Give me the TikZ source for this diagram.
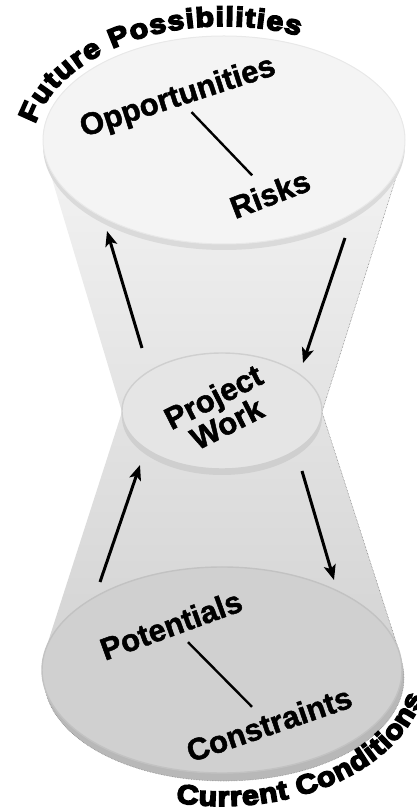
\documentclass[tikz,border=0pt]{standalone}
\usepackage{fontspec}
\setmainfont{Liberation Sans}
\newfontfamily\lblfont[FakeBold=1.6]{Liberation Sans Bold}
\newfontfamily\arcfont[FakeStretch=1.12,FakeBold=6]{Liberation Sans Bold}
\usetikzlibrary{shapes.geometric,arrows.meta,decorations.text,calc}

\definecolor{funnelTop}{HTML}{F2F2F2}
\definecolor{funnelBot}{HTML}{D4D4D4}
\definecolor{topFace}{HTML}{F4F4F4}
\definecolor{topRim}{HTML}{DADADA}
\definecolor{midFace}{HTML}{E5E5E5}
\definecolor{midEdge}{HTML}{CFCFCF}
\definecolor{botFace}{HTML}{D0D0D0}
\definecolor{botEdge}{HTML}{C2C2C2}
\definecolor{botRim}{HTML}{B8B8B8}

\newcommand\lblfmt{\lblfont\fontsize{31}{28}\selectfont}
\newcommand\upperfmt{\arcfont\fontsize{27}{27}\selectfont}
\newcommand\lowerfmt{\arcfont\fontsize{27}{27}\selectfont}

\begin{document}
\begin{tikzpicture}[x=1pt,y=1pt,
  disc/.style={ellipse, inner sep=0pt, outer sep=0pt},
  lbl/.style={font=\lblfmt, inner sep=3pt, text=black},
  flow/.style={line width=3pt, -{Stealth[length=15pt,width=12pt,inset=3.5pt]}},
  tie/.style={line width=2.4pt},
  speckle/.style={densely dotted, line width=0.5pt, black!60}]
\useasboundingbox (0,0) rectangle (416,809);

% hourglass body between the three discs
\shade[top color=funnelTop, bottom color=funnelBot]
  (45.6,651.3) -- (122,397) -- (45.1,158) -- (399,158) -- (322,397) -- (402,650.4) -- cycle;
\draw[speckle] (402,650.4) -- (322,397) -- (399,158);

% lower disc: current conditions
\node[disc, minimum width=360pt, minimum height=206pt, fill=botRim, draw=black!45, densely dotted, line width=0.6pt] (botrim) at (224,131) {};
\node[disc, minimum width=360pt, minimum height=206pt, fill=botFace, draw=botEdge, line width=1.4pt] (bot) at (222,139) {};

% middle disc: project work
\node[disc, minimum width=200pt, minimum height=116pt, fill=midEdge] (midrim) at (222,392) {};
\node[disc, minimum width=200pt, minimum height=116pt, fill=midFace, draw=midEdge, line width=1.4pt] (mid) at (222,398) {};

% upper disc: future possibilities
\node[disc, minimum width=362pt, minimum height=208pt, fill=topRim] (toprim) at (224,663) {};
\node[disc, minimum width=362pt, minimum height=208pt, fill=topFace, draw=black!9, line width=1pt] (top) at (224,669) {};

% labels on the discs
\node[lbl, rotate=18] (opp) at (178,711) {Opportunities};
\node[lbl, rotate=21] (risk) at (270,615) {Risks};
\node[lbl, rotate=27, align=center] (proj) at (220,399) {Project\\Work};
\node[lbl, rotate=20] (pot) at (171,184) {Potentials};
\node[lbl, rotate=19] (con) at (269,85) {Constraints};

\draw[tie, shorten >=10pt] (opp) -- (risk);
\draw[tie, shorten <=8pt, shorten >=8pt] (pot) -- (con);

% flow arrows around the waist
\coordinate (a1s) at (142,461);
\coordinate (a1e) at (107,578);
\coordinate (a2s) at (345,571);
\coordinate (a2e) at (303,446);
\coordinate (a3s) at (100,227);
\coordinate (a3e) at (140,344);
\coordinate (a4s) at (302,338);
\coordinate (a4e) at (334,229);
\draw[flow] (a1s) -- (a1e);
\draw[flow] (a2s) -- (a2e);
\draw[flow] (a3s) -- (a3e);
\draw[flow] (a4s) -- (a4e);

% curved captions
\path[decorate, decoration={text along path, text={|\upperfmt|Future Possibilities}, text align={fit to path}}]
  ($(224,659)+(168:193pt and 124pt)$) arc[start angle=168, end angle=67, x radius=193pt, y radius=124pt];
\path[decorate, decoration={text along path, text={|\lowerfmt|Current Conditions}, text align={fit to path}}]
  ($(222,141)+(-103:205pt and 138pt)$) arc[start angle=-103, end angle=-12, x radius=205pt, y radius=138pt];
\end{tikzpicture}
\end{document}
